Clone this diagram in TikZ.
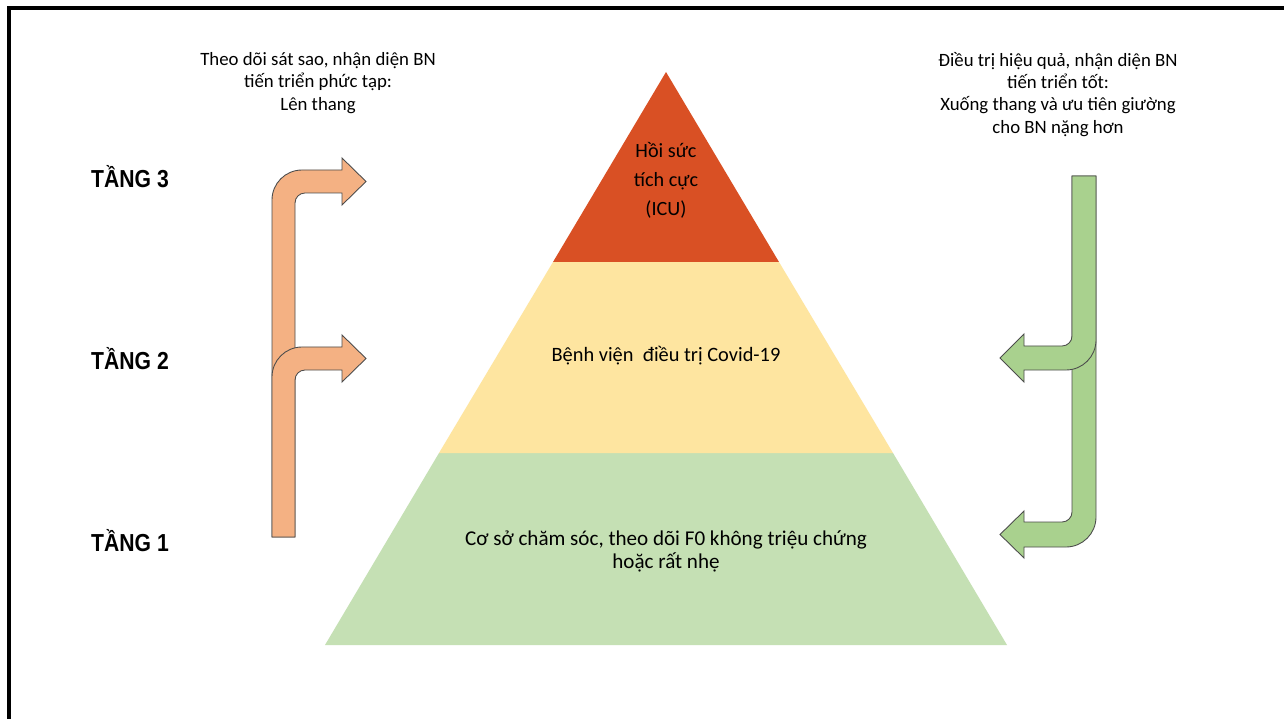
\documentclass[tikz,border=0pt]{standalone}
\usepackage{fontspec}
\setmainfont{Carlito}
\newfontfamily\tangfont{Liberation Sans}
\definecolor{icured}{RGB}{217,80,36}
\definecolor{hospyellow}{RGB}{254,229,160}
\definecolor{basegreen}{RGB}{197,224,180}
\definecolor{uporange}{RGB}{244,177,131}
\definecolor{downgreen}{RGB}{169,209,142}

\begin{document}
\begin{tikzpicture}[
        x=0.02cm, y=-0.02cm,
        level_label/.style={font=\tangfont\bfseries\fontsize{14}{16}\selectfont, xscale=0.86, transform shape},
        side_text/.style={align=center, font=\fontsize{10.7}{12.6}\selectfont},
        layer_text/.style={align=center, font=\fontsize{12}{13}\selectfont},
        up_arrow/.style={fill=uporange, draw=gray!60!black, line width=0.5pt},
        down_arrow/.style={fill=downgreen, draw=gray!60!black, line width=0.5pt}
    ]
        \useasboundingbox (0,0) rectangle (1284,719);
        \fill[white] (0,0) rectangle (1284,719);
        \draw[line width=1.8pt] (9,719) -- (9,8) -- (1284,8);

        % Pyramid: three layers
        \fill[basegreen] (439,453) -- (893,453) -- (1007,645) -- (325,645) -- cycle;
        \fill[hospyellow] (553,262) -- (779,262) -- (893,453) -- (439,453) -- cycle;
        \fill[icured] (666,72) -- (779,262) -- (553,262) -- cycle;

        \node[layer_text, font=\fontsize{11.5}{16.5}\selectfont] (icu) at (666,180) {Hồi sức\\tích cực\\(ICU)};
        \node[layer_text, font=\fontsize{11.6}{13}\selectfont] (hospital) at (666,356) {Bệnh viện\ \ điều trị Covid-19};
        \node[layer_text] (care) at (666,551) {Cơ sở chăm sóc, theo dõi F0 không triệu chứng\\hoặc rất nhẹ};

        % Levels
        \node[level_label] (tang3) at (130,177) {TẦNG 3};
        \node[level_label] (tang2) at (130,359) {TẦNG 2};
        \node[level_label] (tang1) at (130,541) {TẦNG 1};

        % Up the ladder (left)
        \node[side_text] (up_text) at (318,83) {Theo dõi sát sao, nhận diện BN\\tiến triển phức tạp:\\Lên thang};
        \draw[up_arrow] (272,537) -- (272,200) arc[start angle=180, end angle=270, radius=30]
            -- (342,170) -- (342,158) -- (366,181.5) -- (342,205) -- (342,193) -- (305,193)
            arc[start angle=270, end angle=180, radius=10] -- (295,537) -- cycle;
        \draw[up_arrow] (272,537) -- (272,377) arc[start angle=180, end angle=270, radius=30]
            -- (342,347) -- (342,335) -- (366,358.5) -- (342,382) -- (342,370) -- (305,370)
            arc[start angle=270, end angle=180, radius=10] -- (295,537) -- cycle;

        % Down the ladder (right)
        \node[side_text] (down_text) at (1058,94.5) {Điều trị hiệu quả, nhận diện BN\\tiến triển tốt:\\Xuống thang và ưu tiên giường\\cho BN nặng hơn};
        \draw[down_arrow] (1072,176) -- (1096,176) -- (1096,517) arc[start angle=0, end angle=90, radius=30]
            -- (1024,547) -- (1024,558) -- (1000,534.5) -- (1024,511) -- (1024,522) -- (1062,522)
            arc[start angle=90, end angle=0, radius=10] -- cycle;
        \draw[down_arrow] (1072,176) -- (1096,176) -- (1096,340) arc[start angle=0, end angle=90, radius=30]
            -- (1024,370) -- (1024,382) -- (1000,358) -- (1024,334) -- (1024,346) -- (1062,346)
            arc[start angle=90, end angle=0, radius=10] -- cycle;

    \end{tikzpicture}
\end{document}
